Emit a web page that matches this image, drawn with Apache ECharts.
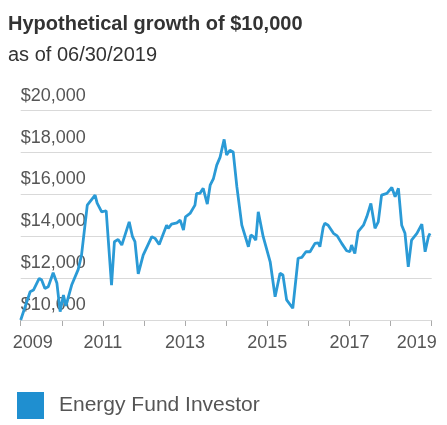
<!DOCTYPE html>
<html>
<head>
<meta charset="utf-8">
<script src="https://cdn.jsdelivr.net/npm/echarts@6/dist/echarts.min.js"></script>
<style>
html,body{margin:0;padding:0;background:#fff;}
#chart{width:447px;height:425px;}
</style>
</head>
<body>
<div id="chart"></div>
<script>
const titleText = 'Hypothetical growth of $10,000';
const subtitleText = 'as of 06/30/2019';
const seriesName = 'Energy Fund Investor';
const yTicks = [10000, 12000, 14000, 16000, 18000, 20000];
const xTickYears = [2009, 2010, 2011, 2012, 2013, 2014, 2015, 2016, 2017, 2018, 2019];
const xLabelYears = [2009, 2011, 2013, 2015, 2017, 2019];

const dates = [2009.00,2009.23,2009.31,2009.45,2009.51,2009.59,2009.67,2009.79,2009.88,2009.96,
  2010.04,2010.10,2010.24,2010.40,2010.48,2010.62,2010.81,2010.86,2010.97,2011.08,
  2011.21,2011.28,2011.37,2011.46,2011.64,2011.72,2011.78,2011.86,2011.98,2012.19,
  2012.27,2012.37,2012.55,2012.59,2012.67,2012.80,2012.88,2012.96,2013.01,2013.12,
  2013.24,2013.28,2013.36,2013.44,2013.54,2013.61,2013.69,2013.77,2013.85,2013.95,
  2014.01,2014.09,2014.17,2014.26,2014.38,2014.54,2014.60,2014.66,2014.72,2014.78,
  2014.90,2015.07,2015.19,2015.31,2015.38,2015.47,2015.62,2015.75,2015.84,2015.88,
  2015.94,2016.04,2016.16,2016.24,2016.28,2016.36,2016.40,2016.48,2016.61,2016.70,
  2016.81,2016.93,2017.01,2017.05,2017.13,2017.21,2017.34,2017.42,2017.52,2017.62,
  2017.70,2017.78,2017.91,2018.03,2018.11,2018.19,2018.27,2018.35,2018.43,2018.51,
  2018.64,2018.76,2018.84,2018.92,2018.96];

const values = [10000,11350,11430,11990,11910,11510,11590,12260,11770,10400,
  11190,10670,11670,12420,13100,15490,15970,15580,15170,15220,
  11670,13740,13850,13580,14690,13980,13740,12200,13100,13980,
  13900,13610,14530,14380,14580,14640,14770,14300,14930,15090,
  15490,16050,16050,16290,15540,16440,16760,17400,17770,18630,
  17880,18110,18030,16360,14530,13500,14060,13980,13820,15170,
  13980,12780,11110,12230,12150,10960,10560,12950,12990,13060,
  13260,13260,13660,13690,13500,14430,14620,14530,14140,14020,
  13660,13310,13260,13580,13180,14220,14530,14930,15570,14380,
  14690,15970,16050,16330,15890,16290,14530,14140,12540,13820,
  14140,14580,13260,13980,14140];

const FONT = 'Liberation Sans, Arial, Helvetica, sans-serif';
const lineColor = '#2a9ad6';

const chart = echarts.init(document.getElementById('chart'), null, {renderer: 'canvas'});
chart.setOption({
  animation: false,
  backgroundColor: '#fff',
  title: [
    {text: titleText, left: 3, top: 9,
     textStyle: {fontFamily: FONT, fontSize: 20, fontWeight: 'bold', color: '#333'}},
    {text: subtitleText, left: 3, top: 40,
     textStyle: {fontFamily: FONT, fontSize: 20, fontWeight: 'normal', color: '#333'}}
  ],
  legend: {
    left: 12, top: 387,
    icon: 'rect', itemWidth: 27, itemHeight: 27,
    itemStyle: {color: '#1f8fd0', borderWidth: 0},
    lineStyle: {width: 0, opacity: 0},
    textStyle: {fontFamily: FONT, fontSize: 21, color: '#555', padding: [0, 0, 0, 10]},
    data: [{name: seriesName}]
  },
  grid: {left: 20.7, right: 15.3, top: 110.7, bottom: 105, containLabel: false, outerBoundsMode: 'none'},
  xAxis: {
    type: 'value',
    min: xTickYears[0], max: xTickYears[xTickYears.length - 1], interval: 1,
    axisLine: {show: true, lineStyle: {color: '#aaa', width: 1}},
    axisTick: {show: true, length: 6, lineStyle: {color: '#aaa'}},
    splitLine: {show: false},
    axisLabel: {
      showMinLabel: true, showMaxLabel: true, hideOverlap: false,
      margin: 14,
      fontFamily: FONT, fontSize: 18, color: '#555',
      formatter: function (v) {
        if (xLabelYears.indexOf(v) < 0) return '';
        if (v === xLabelYears[0]) return '{first|' + v + '}';
        if (v === xLabelYears[xLabelYears.length - 1]) return '{last|' + v + '}';
        return String(v);
      },
      rich: {
        first: {fontFamily: FONT, fontSize: 18, color: '#555', padding: [0, 0, 0, 24]},
        last: {fontFamily: FONT, fontSize: 18, color: '#555', padding: [0, 30, 0, 0]}
      }
    }
  },
  yAxis: {
    type: 'value',
    min: yTicks[0], max: yTicks[yTicks.length - 1], interval: 2000,
    axisLine: {show: false},
    axisTick: {show: false},
    splitLine: {show: true, lineStyle: {color: '#d9d9d9', width: 1.2}},
    axisLabel: {
      inside: true, margin: 0, align: 'left', verticalAlign: 'bottom',
      lineHeight: 18, padding: [0, 0, 6, 0],
      fontFamily: FONT, fontSize: 18, color: '#555',
      formatter: function (v) { return '$' + v.toLocaleString('en-US'); }
    },
    z: 3
  },
  series: [{
    name: seriesName,
    type: 'line',
    showSymbol: false,
    symbol: 'none',
    lineStyle: {color: lineColor, width: 2.8},
    itemStyle: {color: lineColor},
    data: dates.map(function (d, i) { return [d, values[i]]; })
  }]
});
</script>
</body>
</html>
